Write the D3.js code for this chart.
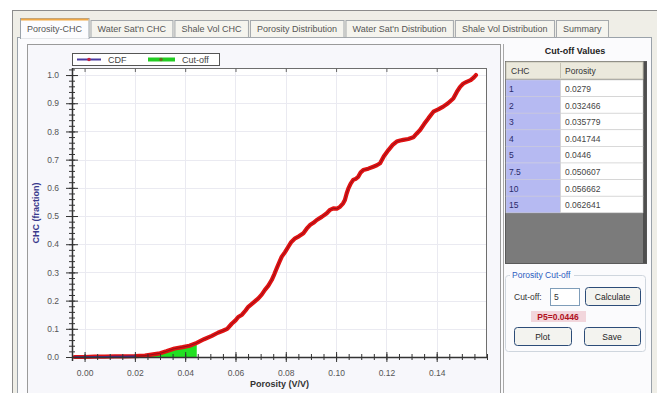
<!DOCTYPE html>
<html>
<head>
<meta charset="utf-8">
<script src="https://cdn.jsdelivr.net/npm/d3@7"></script>
<style>
  body { margin: 0; background: #fff; }
  svg { display: block; font-family: "Liberation Sans", "DejaVu Sans", sans-serif; }
</style>
</head>
<body>
<svg id="chart" width="657" height="393"></svg>
<script>
// porosity (V/V) and cumulative hydrocarbon fraction
const cdfPorosity = [-0.004, 0.000, 0.004, 0.008, 0.012, 0.016, 0.020, 0.024, 0.0279, 0.0300, 0.0325, 0.0358,
  0.0390, 0.0417, 0.0446, 0.0475, 0.0506, 0.0530, 0.0550, 0.0567, 0.0585, 0.0600, 0.0611, 0.0626, 0.0640,
  0.0651, 0.0670, 0.0691, 0.0705, 0.0717, 0.0730, 0.0744, 0.0755, 0.0764, 0.0775, 0.0784, 0.0797, 0.0810,
  0.0822, 0.0837, 0.0852, 0.0870, 0.0883, 0.0896, 0.0910, 0.0923, 0.0943, 0.0963, 0.0976, 0.0989, 0.1003,
  0.1016, 0.1028, 0.1035, 0.1042, 0.1049, 0.1058, 0.1068, 0.1078, 0.1088, 0.1098, 0.1108, 0.1128, 0.1148,
  0.1162, 0.1175, 0.1190, 0.1208, 0.1225, 0.1241, 0.1255, 0.1267, 0.1287, 0.1307, 0.1320, 0.1334, 0.1350,
  0.1368, 0.1387, 0.1406, 0.1426, 0.1445, 0.1466, 0.1480, 0.1493, 0.1506, 0.1519, 0.1535, 0.1548, 0.1556];
const cdfChc = [0.000, 0.000, 0.001, 0.001, 0.002, 0.002, 0.003, 0.005, 0.010, 0.013, 0.020, 0.030,
  0.035, 0.040, 0.050, 0.063, 0.075, 0.086, 0.093, 0.100, 0.118, 0.130, 0.142, 0.150, 0.165,
  0.178, 0.192, 0.208, 0.222, 0.238, 0.252, 0.273, 0.295, 0.315, 0.338, 0.356, 0.372, 0.391,
  0.408, 0.421, 0.428, 0.439, 0.455, 0.468, 0.476, 0.486, 0.497, 0.510, 0.522, 0.527, 0.526,
  0.533, 0.545, 0.557, 0.580, 0.598, 0.615, 0.628, 0.632, 0.639, 0.655, 0.663, 0.668, 0.675,
  0.680, 0.687, 0.712, 0.734, 0.752, 0.764, 0.768, 0.770, 0.773, 0.779, 0.792, 0.805, 0.826,
  0.848, 0.870, 0.878, 0.888, 0.900, 0.917, 0.940, 0.958, 0.970, 0.976, 0.982, 0.992, 1.000];
const cutoffPorosity = 0.0446;

const tabLabels = ["Porosity-CHC", "Water Sat'n CHC", "Shale Vol CHC", "Porosity Distribution",
  "Water Sat'n Distribution", "Shale Vol Distribution", "Summary"];
const tableChc = ["1", "2", "3", "4", "5", "7.5", "10", "15"];
const tablePorosity = ["0.0279", "0.032466", "0.035779", "0.041744", "0.0446", "0.050607", "0.056662", "0.062641"];
const xTicks = [0, 0.02, 0.04, 0.06, 0.08, 0.10, 0.12, 0.14];
const yTicks = [0, 0.1, 0.2, 0.3, 0.4, 0.5, 0.6, 0.7, 0.8, 0.9, 1.0];

let svg = d3.select('#chart');
let data = cdfPorosity.map((p, i) => ({x: p, y: cdfChc[i]}));

// window + tab strip
svg.append('rect').attr('x', 12.5).attr('y', 10.5).attr('width', 650).attr('height', 390)
  .attr('fill', '#efeee7').attr('stroke', '#8c8c8c');
svg.append('rect').attr('x', 17.5).attr('y', 37.5).attr('width', 634).attr('height', 370)
  .attr('fill', '#fbfbfd').attr('stroke', '#9aa2aa');

let tabX = 20;
tabLabels.forEach(function(label, i) {
  let g = svg.append('g');
  let r = g.append('rect');
  let t = g.append('text').text(label).attr('font-size', 9).attr('fill', '#555')
    .attr('x', tabX + 7).attr('y', 32);
  let w = t.node().getComputedTextLength() + 13.5;
  if (i == 0) {
    r.attr('x', tabX + 0.5).attr('y', 18.5).attr('width', w).attr('height', 20)
      .attr('fill', '#fcfcfe').attr('stroke', '#9aa2aa');
    g.append('line').attr('x1', tabX + 1).attr('x2', tabX + w).attr('y1', 19.5).attr('y2', 19.5)
      .attr('stroke', '#f0a844').attr('stroke-width', 2);
    g.append('line').attr('x1', tabX + 1).attr('x2', tabX + w).attr('y1', 38).attr('y2', 38)
      .attr('stroke', '#fcfcfe').attr('stroke-width', 1.5);
  } else {
    r.attr('x', tabX + 0.5).attr('y', 20.5).attr('width', w).attr('height', 17)
      .attr('fill', '#f5f4ee').attr('stroke', '#a4a8ac');
  }
  t.raise();
  tabX += w + 2;
});

// chart control frame
svg.append('rect').attr('x', 27.5).attr('y', 44.5).attr('width', 473).attr('height', 360)
  .attr('fill', '#f7f7fb').attr('stroke', '#9a9a9a');
svg.append('line').attr('x1', 503.5).attr('x2', 503.5).attr('y1', 44).attr('y2', 393)
  .attr('stroke', '#a8a8a8');

// plot area
let pLeft = 72, pRight = 487, pTop = 68, pBottom = 357;
let x = d3.scaleLinear().domain([-0.005, 0.16]).range([pLeft, pRight]);
let y = d3.scaleLinear().domain([0, 1.025]).range([pBottom, pTop]);

svg.append('rect').attr('x', pLeft).attr('y', pTop).attr('width', pRight - pLeft).attr('height', pBottom - pTop)
  .attr('fill', '#fff');

let grid = svg.append('g').attr('stroke', '#eaeaf1').attr('stroke-width', 1);
grid.selectAll('.gx').data(xTicks).enter().append('line')
  .attr('x1', d => Math.round(x(d)) + 0.5).attr('x2', d => Math.round(x(d)) + 0.5)
  .attr('y1', pTop).attr('y2', pBottom);
grid.selectAll('.gy').data(yTicks.slice(1)).enter().append('line')
  .attr('y1', d => Math.round(y(d)) + 0.5).attr('y2', d => Math.round(y(d)) + 0.5)
  .attr('x1', pLeft).attr('x2', pRight);

// cut-off area (green) under the CDF up to P5
let cutData = data.filter(d => d.x <= cutoffPorosity);
svg.append('path').datum(cutData)
  .attr('fill', '#22e022')
  .attr('d', d3.area().x(d => x(d.x)).y0(y(0)).y1(d => y(d.y)));

// CDF curve: red markers + dark line
svg.append('path').datum(data)
  .attr('fill', 'none').attr('stroke', '#e01212').attr('stroke-width', 4.2)
  .attr('stroke-linejoin', 'round').attr('stroke-linecap', 'round')
  .attr('d', d3.line().x(d => x(d.x)).y(d => y(d.y)));
svg.append('path').datum(data)
  .attr('fill', 'none').attr('stroke', '#961018').attr('stroke-width', 1)
  .attr('d', d3.line().x(d => x(d.x)).y(d => y(d.y)));
svg.append('path').datum(data.filter(d => d.x < 0.022))
  .attr('fill', 'none').attr('stroke', '#4a2a8a').attr('stroke-width', 1.5)
  .attr('d', d3.line().x(d => x(d.x)).y(d => y(d.y)));

// frame of plot
svg.append('rect').attr('x', pLeft + 0.5).attr('y', pTop + 0.5).attr('width', pRight - pLeft - 1)
  .attr('height', pBottom - pTop).attr('fill', 'none').attr('stroke', '#6e6e6e');

// axes
let yMinor = d3.range(0, 1.021, 0.02);
let xMinor = d3.range(-0.005, 0.1601, 0.005);

let yAxis = svg.append('g').attr('transform', `translate(${pLeft},0)`)
  .call(d3.axisLeft(y).tickValues(yTicks).tickFormat(d3.format('.1f')).tickSize(6).tickPadding(7));
yAxis.select('.domain').remove();
yAxis.selectAll('.tick line').attr('x2', -6).attr('x1', 6).attr('stroke', '#333');
yAxis.selectAll('.tick text').attr('font-size', 8.5).attr('fill', '#555');
let yMin = svg.append('g').attr('transform', `translate(${pLeft},0)`)
  .call(d3.axisLeft(y).tickValues(yMinor).tickFormat('').tickSize(3));
yMin.select('.domain').remove();
yMin.selectAll('.tick line').attr('x1', 3).attr('stroke', '#333');
svg.append('line').attr('x1', pLeft + 0.5).attr('x2', pLeft + 0.5).attr('y1', pTop).attr('y2', pBottom + 4)
  .attr('stroke', '#333').attr('stroke-width', 1.5);

let xAxis = svg.append('g').attr('transform', `translate(0,${pBottom})`)
  .call(d3.axisBottom(x).tickValues(xTicks).tickFormat(d3.format('.2f')).tickSize(5).tickPadding(8));
xAxis.select('.domain').remove();
xAxis.selectAll('.tick line').attr('y1', -5).attr('stroke', '#333');
xAxis.selectAll('.tick text').attr('font-size', 8.5).attr('fill', '#555');
let xMin = svg.append('g').attr('transform', `translate(0,${pBottom})`)
  .call(d3.axisBottom(x).tickValues(xMinor).tickFormat('').tickSize(3));
xMin.select('.domain').remove();
xMin.selectAll('.tick line').attr('y1', -3).attr('stroke', '#333');
svg.append('line').attr('x1', pLeft).attr('x2', pRight).attr('y1', pBottom + 0.5).attr('y2', pBottom + 0.5)
  .attr('stroke', '#333').attr('stroke-width', 1.5);

// ticks on top border
let xTop = svg.append('g').attr('transform', `translate(0,${pTop})`)
  .call(d3.axisTop(x).tickValues(xTicks).tickFormat('').tickSize(4));
xTop.select('.domain').remove();
xTop.selectAll('.tick line').attr('y2', 4).attr('y1', 0).attr('stroke', '#666');

// d3 axes set their own font-family; use the page one
svg.selectAll('.tick text').attr('font-family', null);

svg.append('text').text('CHC (fraction)').attr('font-size', 9).attr('font-weight', 'bold')
  .attr('fill', '#3a3a8c').attr('text-anchor', 'middle')
  .attr('transform', 'translate(39,213) rotate(-90)');
svg.append('text').text('Porosity (V/V)').attr('font-size', 9).attr('font-weight', 'bold')
  .attr('fill', '#333').attr('text-anchor', 'middle')
  .attr('x', (pLeft + pRight) / 2).attr('y', 387);

// legend
let lg = svg.append('g');
lg.append('rect').attr('x', 72.5).attr('y', 53.5).attr('width', 147).attr('height', 12)
  .attr('fill', '#fff').attr('stroke', '#555');
lg.append('line').attr('x1', 77).attr('x2', 101).attr('y1', 59.5).attr('y2', 59.5)
  .attr('stroke', '#4a3aa0').attr('stroke-width', 2);
lg.append('circle').attr('cx', 89).attr('cy', 59.5).attr('r', 1.8).attr('fill', '#c02040');
lg.append('text').text('CDF').attr('x', 108).attr('y', 63).attr('font-size', 9).attr('fill', '#444');
lg.append('line').attr('x1', 148).attr('x2', 175).attr('y1', 59.5).attr('y2', 59.5)
  .attr('stroke', '#22cc22').attr('stroke-width', 4);
lg.append('circle').attr('cx', 161).attr('cy', 59.5).attr('r', 1.8).attr('fill', '#6a6a20');
lg.append('text').text('Cut-off').attr('x', 182).attr('y', 63).attr('font-size', 9).attr('fill', '#444');

// right panel: cut-off table
let tp = svg.append('g');
tp.append('text').text('Cut-off Values').attr('x', 575).attr('y', 54).attr('text-anchor', 'middle')
  .attr('font-size', 9).attr('font-weight', 'bold').attr('fill', '#222');
tp.append('rect').attr('x', 505.5).attr('y', 61.5).attr('width', 141).attr('height', 202)
  .attr('fill', '#7b7b7b').attr('stroke', '#5a5a5a');
tp.append('rect').attr('x', 643).attr('y', 62).attr('width', 3.5).attr('height', 201).attr('fill', '#4e4e4e');
tp.append('rect').attr('x', 506).attr('y', 62).attr('width', 137).attr('height', 17)
  .attr('fill', '#ebe9dc').attr('stroke', '#c6c3b4');
tp.append('line').attr('x1', 560.5).attr('x2', 560.5).attr('y1', 63).attr('y2', 78).attr('stroke', '#c6c3b4');
tp.append('text').text('CHC').attr('x', 511).attr('y', 74).attr('font-size', 8.5).attr('fill', '#333');
tp.append('text').text('Porosity').attr('x', 565).attr('y', 74).attr('font-size', 8.5).attr('fill', '#333');

let rowH = 16.6, row0 = 80;
let rows = tp.selectAll('.row').data(tableChc).enter().append('g')
  .attr('transform', (d, i) => `translate(0,${row0 + i * rowH})`);
rows.append('rect').attr('x', 506).attr('y', 0).attr('width', 54.5).attr('height', rowH)
  .attr('fill', '#b6baf2').attr('stroke', '#d0d0e0').attr('stroke-width', 0.6);
rows.append('rect').attr('x', 560.5).attr('y', 0).attr('width', 82.5).attr('height', rowH)
  .attr('fill', '#fff').attr('stroke', '#cfcfcf').attr('stroke-width', 0.6);
rows.append('text').text(d => d).attr('x', 509).attr('y', 12).attr('font-size', 8.5).attr('fill', '#2a2a6a');
rows.append('text').text((d, i) => tablePorosity[i]).attr('x', 565).attr('y', 12)
  .attr('font-size', 8.5).attr('fill', '#444');

// right panel: porosity cut-off group
let gp = svg.append('g');
gp.append('rect').attr('x', 505.5).attr('y', 275.5).attr('width', 140).attr('height', 76).attr('rx', 3)
  .attr('fill', 'none').attr('stroke', '#cfd6de');
gp.append('rect').attr('x', 510).attr('y', 270).attr('width', 64).attr('height', 10).attr('fill', '#fbfbfd');
gp.append('text').text('Porosity Cut-off').attr('x', 512).attr('y', 278).attr('font-size', 8.5).attr('fill', '#2c5cc0');
gp.append('text').text('Cut-off:').attr('x', 514).attr('y', 300).attr('font-size', 8.5).attr('fill', '#333');
gp.append('rect').attr('x', 550.5).attr('y', 288.5).attr('width', 29).attr('height', 17)
  .attr('fill', '#fff').attr('stroke', '#7f9db9');
gp.append('text').text('5').attr('x', 554).attr('y', 300).attr('font-size', 8.5).attr('fill', '#333');

function button(label, bx, by, bw, bh) {
  gp.append('rect').attr('x', bx + 0.5).attr('y', by + 0.5).attr('width', bw).attr('height', bh).attr('rx', 3)
    .attr('fill', '#f3f3ef').attr('stroke', '#2c4c78');
  gp.append('text').text(label).attr('x', bx + bw / 2).attr('y', by + bh / 2 + 3.5)
    .attr('text-anchor', 'middle').attr('font-size', 8.5).attr('fill', '#222');
}
button('Calculate', 585, 287, 55, 18);
button('Plot', 514, 327, 57, 18);
button('Save', 584, 327, 56, 18);

gp.append('rect').attr('x', 531).attr('y', 311).attr('width', 55).attr('height', 11).attr('fill', '#f2d6dc');
gp.append('text').text('P5=0.0446').attr('x', 558).attr('y', 320).attr('text-anchor', 'middle')
  .attr('font-size', 8.5).attr('font-weight', 'bold').attr('fill', '#b01020');
</script>
</body>
</html>
